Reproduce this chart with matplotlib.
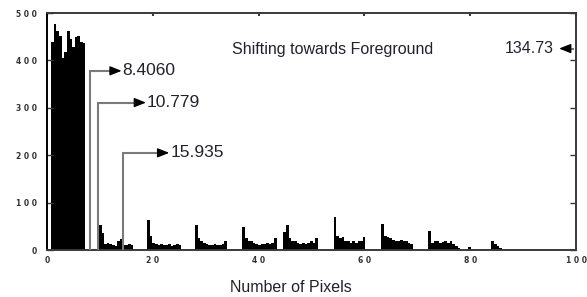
import numpy as np
import matplotlib
matplotlib.use('Agg')
import matplotlib.pyplot as plt

col_bar = 'black'
col_lead = '#7a7a7a'
col_text = '#22222e'
col_frame = '#3a3a3a'

bin_w = 0.5

# histogram clusters: (first bin left edge, bar heights)
block_x0 = 0.75
block_h = [438, 476, 462, 452, 406, 418, 462, 445, 428, 449, 452, 438, 436]
c1_x0 = 9.8
c1_h = [53, 35, 12, 14, 12, 10, 8, 20, 23, 10, 10, 12, 10]
c2_x0 = 18.9
c2_h = [63, 30, 15, 12, 10, 12, 10, 10, 12, 8, 10, 12, 10]
c3_x0 = 28.0
c3_h = [53, 25, 20, 15, 12, 10, 10, 12, 10, 10, 12, 18]
c4_x0 = 36.9
c4_h = [49, 25, 20, 18, 15, 12, 10, 12, 12, 14, 12, 15, 25]
c5_x0 = 44.7
c5_h = [39, 53, 25, 20, 18, 15, 12, 15, 12, 14, 18, 15, 25]
c6_x0 = 54.2
c6_h = [69, 30, 25, 28, 20, 18, 15, 18, 15, 20, 18, 27]
c7_x0 = 63.2
c7_h = [55, 30, 28, 25, 22, 20, 18, 22, 20, 18, 15, 12]
c8_x0 = 72.1
c8_h = [40, 15, 20, 18, 15, 16, 18, 15, 18, 12, 8, 5]
c9_x0 = 79.6
c9_h = [7]
c10_x0 = 82.0
c10_h = [3]
c11_x0 = 84.0
c11_h = [19, 12, 8, 4]

clusters = [(block_x0, block_h), (c1_x0, c1_h), (c2_x0, c2_h), (c3_x0, c3_h),
            (c4_x0, c4_h), (c5_x0, c5_h), (c6_x0, c6_h), (c7_x0, c7_h),
            (c8_x0, c8_h), (c9_x0, c9_h), (c10_x0, c10_h), (c11_x0, c11_h)]

# annotation leaders: label, x of vertical lead, y of horizontal lead, x of arrow tip
lead_labels = ['8.4060', '10.779', '15.935']
lead_x = [8.2, 9.7, 14.4]
lead_y = [378, 311, 205]
lead_tip = [14.1, 18.7, 23.1]

right_label = '134.73'
right_y = 425
right_tip = 96.8

x_ticks = [0, 20, 40, 60, 80, 100]
y_ticks = [0, 100, 200, 300, 400, 500]


def spaced(v):
    return ' '.join(str(v))


fig = plt.figure(figsize=(5.87, 2.97), dpi=100)
ax = fig.add_axes([0.0801, 0.1582, 0.9012, 0.798])

for x0, hs in clusters:
    xs = x0 + bin_w * np.arange(len(hs))
    ax.bar(xs, hs, width=bin_w, align='edge', color=col_bar, linewidth=0)

for lab, xv, yh, xt in zip(lead_labels, lead_x, lead_y, lead_tip):
    ax.plot([xv, xv, xt - 1.5], [0, yh, yh], color=col_lead, lw=1.5,
            solid_joinstyle='miter', zorder=3)
    ax.annotate('', xy=(xt, yh), xytext=(xt - 1.7, yh),
                arrowprops=dict(arrowstyle='-|>,head_length=0.7,head_width=0.28',
                                color='black', lw=1, shrinkA=0, shrinkB=0))
    ax.text(xt + 0.2, yh, lab, fontsize=12.5, color=col_text, va='center',
            ha='left', family='Liberation Sans')

ax.plot([99.4, right_tip + 1.5], [right_y, right_y], color=col_lead, lw=1.5)
ax.annotate('', xy=(right_tip, right_y), xytext=(right_tip + 1.7, right_y),
            arrowprops=dict(arrowstyle='-|>,head_length=0.7,head_width=0.28',
                            color='black', lw=1, shrinkA=0, shrinkB=0))
ax.text(right_tip - 1.0, right_y, right_label, fontsize=11.5, color=col_text,
        va='center', ha='right', family='Liberation Sans')

ax.text(54, 424, 'Shifting towards Foreground', fontsize=11.5, color=col_text,
        va='center', ha='center', family='Liberation Sans')

ax.set_xlim(0, 100)
ax.set_ylim(0, 500)
ax.set_xticks(x_ticks)
ax.set_xticklabels([spaced(v) for v in x_ticks])
ax.set_yticks(y_ticks)
ax.set_yticklabels([spaced(v) for v in y_ticks])

for lab in ax.get_xticklabels() + ax.get_yticklabels():
    lab.set_fontsize(5.5)
    lab.set_fontweight('bold')
    lab.set_color('#333333')

ax.tick_params(axis='y', direction='in', length=4, width=1, color=col_frame,
               left=True, right=True, pad=7)
ax.tick_params(axis='x', direction='in', length=2, width=1.5, color=col_frame,
               bottom=False, top=True, pad=4)

for sp in ax.spines.values():
    sp.set_color(col_frame)
    sp.set_linewidth(1.4)
ax.spines['left'].set_color('black')

fig.text(291 / 587, 1 - 287 / 297, 'Number of Pixels', fontsize=11.5,
         color=col_text, ha='center', va='center', family='Liberation Sans')

fig.savefig('out.png', dpi=100)
